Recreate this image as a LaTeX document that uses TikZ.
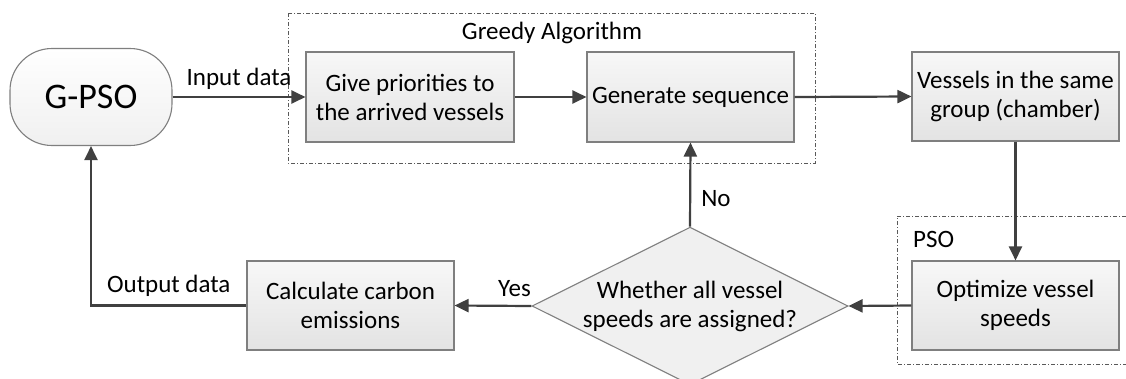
\documentclass[tikz,border=0pt]{standalone}
\usepackage{fontspec}
\setmainfont{Carlito}
\usetikzlibrary{shapes.geometric,arrows.meta}
\definecolor{linec}{HTML}{404040}
\definecolor{boxline}{HTML}{7F7F7F}
\tikzset{
  procbox/.style={draw=boxline, line width=1.1pt, top color=white!97!black, bottom color=black!11,
    minimum width=207pt, minimum height=89pt, align=center, inner sep=0pt,
    font=\fontsize{25}{29}\selectfont},
  startbox/.style={draw=boxline, line width=1.1pt, top color=white, bottom color=black!6,
    rounded corners=42pt, minimum width=162pt, minimum height=97pt, inner sep=0pt,
    font=\fontsize{36}{40}\selectfont},
  decbox/.style={diamond, draw=boxline, line width=1.1pt, fill=black!6, aspect=2,
    minimum width=316pt, minimum height=156pt, inner sep=0pt, align=center,
    font=\fontsize{25}{29}\selectfont},
  conn/.style={draw=linec, line width=2.2pt, -{Triangle[length=14pt,width=13pt]}},
  frame/.style={draw=black!65, line width=0.8pt, dash pattern=on 4pt off 2pt on 1pt off 2pt},
  lbl/.style={font=\fontsize{25}{29}\selectfont, inner sep=0pt}
}
\begin{document}
\begin{tikzpicture}[x=1pt,y=-1pt]
\useasboundingbox (0,0) rectangle (1126,378);
% frames
\draw[frame] (288,13) rectangle (815,163);
\draw[frame] (1135,216) -- (897,216) -- (897,364) -- (1135,364);
\node[lbl] (greedylbl) at (552,33) {Greedy Algorithm};
\node[lbl, anchor=west] (psolbl) at (913,239) {PSO};
% nodes
\node[startbox] (gpso) at (91,97) {G-PSO};
\node[procbox, minimum width=208pt, minimum height=90pt] (give) at (410,97) {Give priorities to\\the arrived vessels};
\node[procbox, minimum height=90pt] (gen) at (690.5,97) {Generate sequence};
\node[procbox] (ves) at (1015.5,96.5) {Vessels in the same\\group (chamber)};
\node[procbox] (opt) at (1015.5,305.5) {Optimize vessel\\speeds};
\node[decbox] (dia) at (690,306) {Whether all vessel\\speeds are assigned?};
\node[procbox] (calc) at (350.5,305.5) {Calculate carbon\\emissions};
% connectors
\draw[conn] (gpso.east) -- node[lbl, above=6pt] (inlbl) {Input data} (give.west);
\draw[conn] (give.east) -- (gen.west);
\draw[conn] (gen.east) -- (ves.west);
\draw[conn] (ves.south) -- (opt.north);
\draw[conn] (opt.west) -- (dia.east);
\draw[conn] (dia.west) -- node[lbl, pos=0.22, above=8pt] (yeslbl) {Yes} (calc.east);
\draw[conn] (dia.north) -- node[lbl, pos=0.33, right=10pt] (nolbl) {No} (gen.south);
\draw[conn] (calc.west) -| node[lbl, pos=0.25, above=8pt] (outlbl) {Output data} (gpso.south);
\end{tikzpicture}
\end{document}
